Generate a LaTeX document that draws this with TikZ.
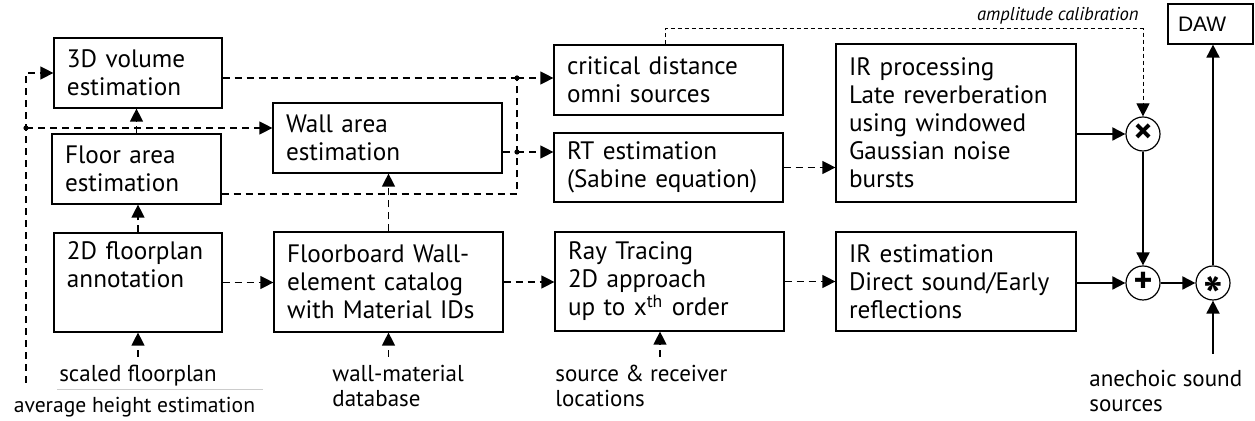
\documentclass[tikz,border=0pt]{standalone}
\usepackage{fontspec}
\setmainfont{PT Sans}
\newfontfamily\dawfont{Liberation Sans}
\usepackage{tikz}
\usetikzlibrary{shapes.geometric, arrows.meta}
\newcommand{\opsym}[2]{\makebox[0pt]{\raisebox{#1}[0pt][0pt]{#2}}}
\tikzstyle{block} = [rectangle, draw=black, line width=0.6pt, align=left, inner xsep=6.5pt, inner ysep=0pt, font=\fontsize{12.6}{14}\selectfont]
\tikzstyle{txt} = [align=left, inner xsep=0pt, inner ysep=4pt, font=\fontsize{11.5}{12.5}\selectfont]
\tikzstyle{op} = [circle, draw=black, line width=0.6pt, minimum size=17pt, inner sep=0pt, font=\bfseries\fontsize{18}{18}\selectfont]
\tikzstyle{dline} = [line width=0.6pt, dash pattern=on 3.7pt off 2.3pt]
\tikzstyle{thin} = [line width=0.5pt, dash pattern=on 2pt off 1.5pt]
\tikzstyle{sline} = [line width=0.9pt]
\tikzstyle{arr} = [-{Triangle[length=6.5pt,width=6.5pt]}]
\tikzstyle{dot} = [circle, fill=black, inner sep=0pt, minimum size=2.6pt]

\begin{document}
\begin{tikzpicture}[x=0.5pt, y=-0.5pt]
            \useasboundingbox (0,0) rectangle (1255,421);
            % left column
            \node (vol) [block, text width=71pt, minimum height=35pt] at (138,73) {3D volume\\estimation};
            \node (floor) [block, text width=71.5pt, minimum height=35pt] at (136.5,169) {Floor area\\estimation};
            \node (plan) [block, text width=71pt, minimum height=49.5pt] at (138,282.5) {2D floorplan\\annotation\\\strut};
            % second column
            \node (wall) [block, text width=101.5pt, minimum height=35pt] at (387.5,138) {Wall area\\estimation};
            \node (board) [block, text width=101.5pt, minimum height=50pt] at (388.5,282) {Floorboard Wall-\\element catalog\\with Material IDs};
            % third column
            \node (crit) [block, text width=101.5pt, minimum height=35pt] at (668.5,80) {critical distance\\omni sources};
            \node (rt) [block, text width=101.5pt, minimum height=34.5pt] at (668.5,167.5) {RT estimation\\(Sabine equation)};
            \node (ray) [block, text width=101.5pt, minimum height=49.5pt] at (669.5,281.5) {Ray Tracing\\2D approach\\up to x\textsuperscript{th} order};
            % fourth column
            \node (irproc) [block, text width=107pt, minimum height=79pt] at (956,123) {IR processing\\Late reverberation\\using windowed\\Gaussian noise\\bursts};
            \node (irest) [block, text width=107pt, minimum height=49.5pt] at (956,281.5) {IR estimation\\Direct sound/Early\\reflections};
            % mixing
            \node (mult) [op] at (1143,134) {\opsym{-4.8pt}{×}};
            \node (plus) [op] at (1143,283) {\opsym{-4.8pt}{+}};
            \node (conv) [op] at (1213,283) {\opsym{-16pt}{\fontsize{26}{26}\selectfont *}};
            \node (daw) [block, text width=32.5pt, inner xsep=5pt, minimum height=20pt, font=\dawfont\fontsize{10.5}{12}\selectfont] at (1210.5,24) {DAW};
            % inputs
            \node (scaled) [txt, anchor=north] at (138,357) {scaled floorplan};
            \node (avg) [txt, anchor=north, font=\fontsize{10.8}{12}\selectfont] at (134.5,389) {average height estimation};
            \node (wallmat) [txt, anchor=north west] at (332,357) {wall-material\\database};
            \node (srcrec) [txt, anchor=north west] at (555,357) {source \& receiver\\locations};
            \node (anech) [txt, anchor=north west] at (1089,362) {anechoic sound\\sources};
            \node (amp) [txt, anchor=base east, inner ysep=0pt, font=\itshape\fontsize{9.3}{10}\selectfont] at (1139,21) {amplitude calibration};
            \draw [gray!40, line width=0.4pt] (57,389) -- (263,389);
            % helper points
            \coordinate (j1) at (517,78);
            \coordinate (j2) at (517,152);
            \coordinate (j3) at (517,194);
            \coordinate (l0) at (26,383);
            \coordinate (l2) at (26,128);
            \coordinate (a1) at (665,29);
            \coordinate (an) at (1213,354);
            % dashed flow
            \draw [dline, arr] (l0) |- (vol.west);
            \draw [dline, arr] (l2) -- (wall.west |- l2);
            \draw [dline, arr] (scaled.north) -- (scaled.north |- plan.south);
            \draw [dline, arr] (plan.north) -- (plan.north |- floor.south);
            \draw [dline, arr] (floor.north) -- (floor.north |- vol.south);
            \draw [dline, arr] (plan.east) -- (board.west |- plan.east);
            \draw [dline, arr] (board.north) -- (board.north |- wall.south);
            \draw [dline, arr] (board.south |- wallmat.north) -- (board.south);
            \draw [dline, arr] (board.east) -- (ray.west |- board.east);
            \draw [dline, arr] ([xshift=-4.75pt]ray.south |- srcrec.north) -- ([xshift=-4.75pt]ray.south);
            \draw [dline, arr] (ray.east) -- (irest.west |- ray.east);
            \draw [dline] (vol.east |- j1) -- (j1);
            \draw [dline] (floor.east |- j3) -- (j3) -- (j1);
            \draw [dline] (wall.east |- j2) -- (j2);
            \draw [dline, arr] (j1) -- (crit.west |- j1);
            \draw [dline, arr] (j2) -- (rt.west |- j2);
            \draw [dline, arr] (rt.east) -- (irproc.west |- rt.east);
            \draw [thin, arr] (a1 |- crit.north) -- (a1) -| (mult.north);
            \node [dot] at (l2) {};
            \node [dot] at (j1) {};
            \node [dot] at (j2) {};
            % solid flow
            \draw [sline, arr] (irproc.east |- mult.west) -- (mult.west);
            \draw [sline, arr] (mult) -- (plus);
            \draw [sline, arr] (irest.east |- plus.west) -- (plus.west);
            \draw [sline, arr] (plus) -- (conv);
            \draw [sline, arr] (conv) -- (conv |- daw.south);
            \draw [sline, arr] (an) -- (conv);
\end{tikzpicture}
\end{document}
